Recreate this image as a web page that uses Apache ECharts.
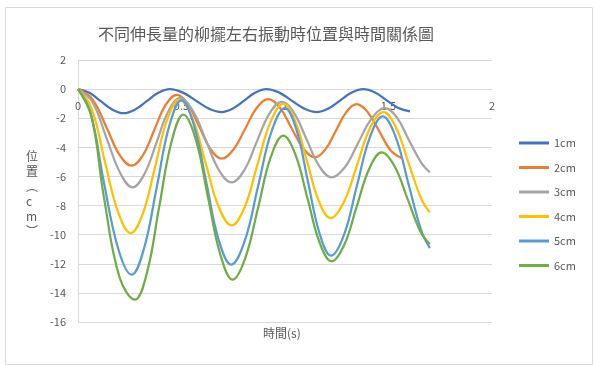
<!DOCTYPE html>
<html>
<head>
<meta charset="utf-8">
<script src="https://cdn.jsdelivr.net/npm/echarts@6/dist/echarts.min.js"></script>
<style>html,body{margin:0;padding:0;background:#fff}#c{width:594px;height:365px}</style>
</head>
<body>
<div id="c"></div>
<script>
var title = '不同伸長量的柳擺左右振動時位置與時間關係圖';
var xName = '時間(s)';
var yName = '位\n置\n︵\nc\nm\n︶';
var seriesNames = ['1cm', '2cm', '3cm', '4cm', '5cm', '6cm'];
var colors = ['#4472C4', '#ED7D31', '#A5A5A5', '#FFC000', '#5B9BD5', '#70AD47'];
var xTicks = [0, 0.5, 1, 1.5, 2];
var yTicks = [2, 0, -2, -4, -6, -8, -10, -12, -14, -16];

var s1cm = [[0,0],[0.055,-0.25],[0.11,-0.83],[0.165,-1.40],[0.22,-1.65],[0.276,-1.40],[0.332,-0.83],[0.388,-0.25],[0.444,0],
  [0.507,-0.24],[0.569,-0.79],[0.632,-1.34],[0.694,-1.58],[0.748,-1.34],[0.803,-0.79],[0.857,-0.24],[0.911,0],
  [0.972,-0.24],[1.032,-0.79],[1.093,-1.34],[1.153,-1.58],[1.209,-1.34],[1.266,-0.79],[1.322,-0.24],[1.378,0],
  [1.435,-0.23],[1.491,-0.77],[1.548,-1.30],[1.604,-1.53]];
var s2cm = [[0,0],[0.07,-0.7],[0.14,-2.7],[0.20,-4.5],[0.259,-5.26],[0.314,-4.53],[0.368,-2.83],[0.422,-1.12],[0.477,-0.39],
  [0.531,-1.05],[0.586,-2.59],[0.640,-4.12],[0.694,-4.78],[0.750,-4.17],[0.807,-2.74],[0.863,-1.30],[0.919,-0.69],
  [0.976,-1.29],[1.032,-2.69],[1.089,-4.09],[1.145,-4.69],[1.195,-4.14],[1.246,-2.86],[1.296,-1.58],[1.346,-1.03],
  [1.40,-1.59],[1.455,-2.89],[1.509,-4.18],[1.563,-4.74]];
var s3cm = [[0,0],[0.07,-0.9],[0.14,-3.45],[0.205,-5.8],[0.264,-6.75],[0.321,-5.83],[0.379,-3.69],[0.436,-1.54],[0.493,-0.62],
  [0.555,-1.49],[0.618,-3.52],[0.680,-5.54],[0.742,-6.41],[0.803,-5.58],[0.863,-3.64],[0.924,-1.70],[0.984,-0.87],
  [1.044,-1.65],[1.105,-3.47],[1.165,-5.28],[1.225,-6.06],[1.290,-5.35],[1.354,-3.68],[1.419,-2.01],[1.483,-1.3],
  [1.542,-1.98],[1.60,-3.55],[1.66,-5.1],[1.70,-5.72]];
var s4cm = [[0,0],[0.065,-1.3],[0.13,-5.0],[0.195,-8.5],[0.255,-9.89],[0.314,-8.52],[0.373,-5.31],[0.431,-2.10],[0.49,-0.73],
  [0.553,-2.02],[0.616,-5.05],[0.679,-8.07],[0.742,-9.36],[0.805,-8.11],[0.867,-5.18],[0.930,-2.25],[0.992,-1.0],
  [1.049,-2.18],[1.106,-4.93],[1.163,-7.68],[1.22,-8.86],[1.284,-7.77],[1.348,-5.22],[1.411,-2.67],[1.475,-1.58],
  [1.536,-2.63],[1.597,-5.08],[1.658,-7.53],[1.70,-8.47]];
var s5cm = [[0,0],[0.06,-1.6],[0.125,-6.4],[0.195,-11.0],[0.259,-12.75],[0.319,-10.95],[0.380,-6.77],[0.440,-2.58],[0.50,-0.78],
  [0.56,-2.47],[0.62,-6.42],[0.68,-10.37],[0.74,-12.06],[0.805,-10.45],[0.87,-6.68],[0.935,-2.91],[1.0,-1.3],
  [1.056,-2.82],[1.111,-6.37],[1.167,-9.92],[1.222,-11.44],[1.285,-10.01],[1.347,-6.66],[1.41,-3.31],[1.472,-1.88],
  [1.534,-3.26],[1.596,-6.48],[1.658,-9.7],[1.70,-10.92]];
var s6cm = [[0,0],[0.065,-1.9],[0.125,-7.4],[0.20,-12.9],[0.275,-14.46],[0.334,-12.56],[0.392,-8.11],[0.451,-3.67],[0.509,-1.76],
  [0.569,-3.46],[0.628,-7.43],[0.688,-11.39],[0.747,-13.09],[0.808,-11.61],[0.870,-8.15],[0.931,-4.68],[0.992,-3.2],
  [1.05,-4.49],[1.109,-7.52],[1.167,-10.54],[1.225,-11.83],[1.286,-10.71],[1.346,-8.09],[1.407,-5.47],[1.467,-4.35],
  [1.53,-5.32],[1.593,-7.58],[1.656,-9.83],[1.70,-10.64]];
var allData = [s1cm, s2cm, s3cm, s4cm, s5cm, s6cm];

var font = '"Noto Sans CJK TC","Noto Sans",sans-serif';
var chart = echarts.init(document.getElementById('c'));
var series = seriesNames.map(function (n, i) {
  return {
    name: n, type: 'line', data: allData[i], showSymbol: false, smooth: 0.4,
    lineStyle: { width: 2.25, color: colors[i] }, itemStyle: { color: colors[i] }
  };
});
chart.setOption({
  animation: false,
  backgroundColor: '#fff',
  title: {
    text: title, left: 261, top: 21, textAlign: 'center',
    textStyle: { fontFamily: font, fontSize: 16, fontWeight: 'normal', color: '#595959' }
  },
  grid: { left: 78, right: 102, top: 60, bottom: 43 },
  legend: {
    orient: 'vertical', left: 514, top: 131, icon: 'rect', itemWidth: 30, itemHeight: 3, itemGap: 10.5,
    data: seriesNames,
    textStyle: { fontFamily: font, fontSize: 11, color: '#595959', lineHeight: 14 }
  },
  xAxis: {
    type: 'value', position: 'top', offset: -29.1,
    min: xTicks[0], max: xTicks[xTicks.length - 1], interval: 0.5,
    axisLine: { onZero: false, lineStyle: { color: '#d9d9d9' } },
    axisTick: { show: false },
    splitLine: { show: false },
    axisLabel: { inside: true, margin: 11, fontFamily: font, fontSize: 11, color: '#595959' }
  },
  yAxis: {
    type: 'value', min: yTicks[yTicks.length - 1], max: yTicks[0], interval: 2,
    axisLine: { show: true, onZero: false, lineStyle: { color: '#d9d9d9' } },
    axisTick: { show: false },
    splitLine: { lineStyle: { color: '#d9d9d9', width: 1 } },
    axisLabel: { margin: 12, fontFamily: font, fontSize: 11, color: '#595959' }
  },
  graphic: [
    { type: 'rect', left: 3, top: 5, shape: { width: 587, height: 357 }, style: { fill: 'none', stroke: '#d9d9d9', lineWidth: 1 }, silent: true },
    { type: 'text', left: 263, top: 327, style: { text: xName, font: '12px ' + font, fill: '#595959' } },
    { type: 'text', left: 26, top: 149, style: { text: yName, font: '12px ' + font, fill: '#595959', lineHeight: 15, align: 'center' } }
  ],
  series: series
});
</script>
</body>
</html>
